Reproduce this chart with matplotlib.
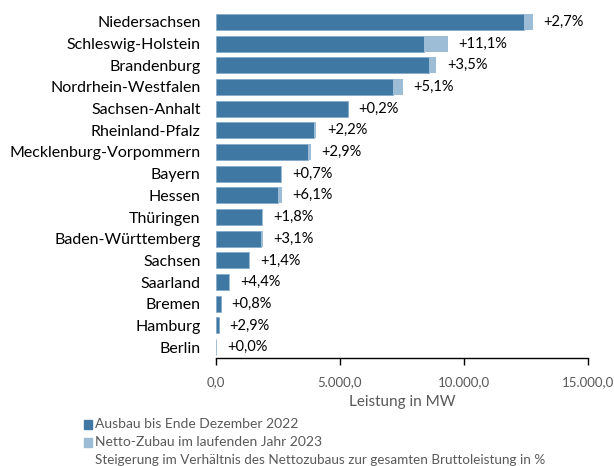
import matplotlib
matplotlib.use("Agg")
import matplotlib.pyplot as plt
from matplotlib.patches import Rectangle

plt.rcParams['font.family'] = ['Lato', 'DejaVu Sans']

states = ["Niedersachsen", "Schleswig-Holstein", "Brandenburg", "Nordrhein-Westfalen",
          "Sachsen-Anhalt", "Rheinland-Pfalz", "Mecklenburg-Vorpommern", "Bayern",
          "Hessen", "Thüringen", "Baden-Württemberg", "Sachsen", "Saarland",
          "Bremen", "Hamburg", "Berlin"]
base_2022 = [12426, 8370, 8585, 7157, 5325, 3963, 3708, 2628, 2495, 1848, 1820, 1334, 526, 202, 121, 17]
zubau_2023 = [340, 980, 305, 375, 11, 89, 111, 18, 162, 34, 58, 19, 24, 2, 4, 0]
pct_labels = ["+2,7%", "+11,1%", "+3,5%", "+5,1%", "+0,2%", "+2,2%", "+2,9%", "+0,7%",
              "+6,1%", "+1,8%", "+3,1%", "+1,4%", "+4,4%", "+0,8%", "+2,9%", "+0,0%"]
xticks = [0, 5000, 10000, 15000]
xtick_labels = ["0,0", "5.000,0", "10.000,0", "15.000,0"]

c_dark = "#3E78A3"
c_light = "#9DBDD6"

W, H = 614, 466
fig = plt.figure(figsize=(W / 100, H / 100), dpi=100)
ax = fig.add_axes([216 / W, (H - 358) / H, (588 - 216) / W, (358 - 11) / H])

y = list(range(len(states)))
ax.barh(y, base_2022, height=0.74, color=c_dark, edgecolor="#7FA6C6", linewidth=0.5)
ax.barh(y, zubau_2023, left=base_2022, height=0.74, color=c_light, linewidth=0)

for i, (b, z, lab) in enumerate(zip(base_2022, zubau_2023, pct_labels)):
    ax.annotate(lab, xy=(b + z, i), xytext=(7.5, 0), textcoords="offset points",
                va="center", ha="left", fontsize=10.5, color="black")

ax.set_ylim(len(states) - 0.5, -0.5)
ax.set_xlim(0, 15000)
ax.set_yticks(y)
ax.set_yticklabels(states, fontsize=11.5, color="black")
ax.tick_params(axis="y", length=0, pad=11)
ax.set_xticks(xticks)
ax.set_xticklabels(xtick_labels, fontsize=9.5, color="#595959")
ax.tick_params(axis="x", length=5, width=1, color="black", direction="out", pad=8)
for s in ["top", "right", "left"]:
    ax.spines[s].set_visible(False)
ax.spines["bottom"].set_color("black")
ax.spines["bottom"].set_linewidth(1)
ax.set_xlabel("Leistung in MW", fontsize=11, color="#595959", labelpad=5)

# legend (manual)
def fx(px):
    return px / W

def fy(py):
    return (H - py) / H

fig.patches.append(Rectangle((fx(83.5), fy(428.5)), 8.5 / W, 8.5 / H, transform=fig.transFigure,
                             color=c_dark, figure=fig))
fig.patches.append(Rectangle((fx(83.5), fy(446.5)), 8.5 / W, 8.5 / H, transform=fig.transFigure,
                             color=c_light, figure=fig))
fig.text(fx(94.5), fy(424), "Ausbau bis Ende Dezember 2022", fontsize=10, color="#595959", va="center")
fig.text(fx(94.5), fy(442.5), "Netto-Zubau im laufenden Jahr 2023", fontsize=10, color="#595959", va="center")
fig.text(fx(94.5), fy(460.5), "Steigerung im Verhältnis des Nettozubaus zur gesamten Bruttoleistung in %",
         fontsize=9.7, color="#595959", va="center")

fig.savefig("out.png", dpi=100)
